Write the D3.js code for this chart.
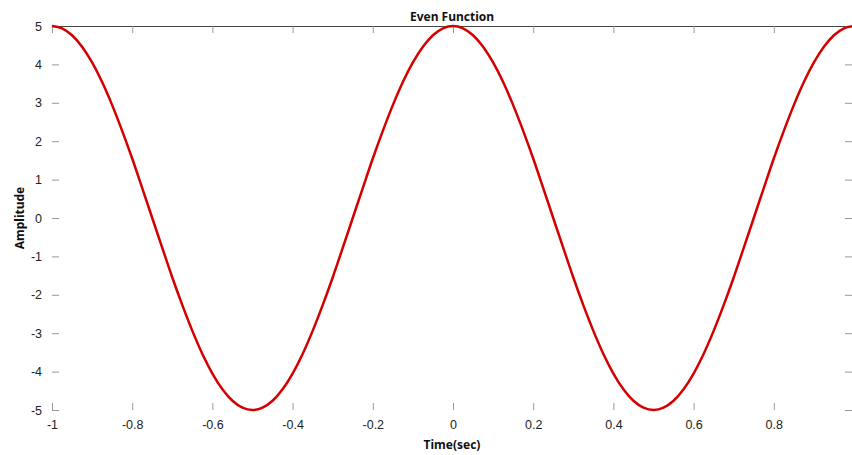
<!DOCTYPE html>
<html>
<head>
<meta charset="utf-8">
<script src="https://cdn.jsdelivr.net/npm/d3@7"></script>
<style>
  body { margin: 0; background: #fff; }
  .tick text { font-family: "Liberation Sans", Arial, sans-serif; font-size: 12.5px; fill: #222; }
  .lbl { font-family: "Comic Sans MS", "Noto Sans", sans-serif; font-size: 12px; font-weight: bold; fill: #111; }
</style>
</head>
<body>
<div id="chart"></div>
<script>
// values
var timeSec = [-1, -0.975, -0.95, -0.925, -0.9, -0.875, -0.85, -0.825, -0.8, -0.775, -0.75,
  -0.725, -0.7, -0.675, -0.65, -0.625, -0.6, -0.575, -0.55, -0.525, -0.5,
  -0.475, -0.45, -0.425, -0.4, -0.375, -0.35, -0.325, -0.3, -0.275, -0.25,
  -0.225, -0.2, -0.175, -0.15, -0.125, -0.1, -0.075, -0.05, -0.025, 0,
  0.025, 0.05, 0.075, 0.1, 0.125, 0.15, 0.175, 0.2, 0.225, 0.25,
  0.275, 0.3, 0.325, 0.35, 0.375, 0.4, 0.425, 0.45, 0.475, 0.5,
  0.525, 0.55, 0.575, 0.6, 0.625, 0.65, 0.675, 0.7, 0.725, 0.75,
  0.775, 0.8, 0.825, 0.85, 0.875, 0.9, 0.925, 0.95, 0.975, 1];
var amplitude = [5, 4.94, 4.76, 4.46, 4.05, 3.54, 2.94, 2.27, 1.55, 0.78, 0,
  -0.78, -1.55, -2.27, -2.94, -3.54, -4.05, -4.46, -4.76, -4.94, -5,
  -4.94, -4.76, -4.46, -4.05, -3.54, -2.94, -2.27, -1.55, -0.78, 0,
  0.78, 1.55, 2.27, 2.94, 3.54, 4.05, 4.46, 4.76, 4.94, 5,
  4.94, 4.76, 4.46, 4.05, 3.54, 2.94, 2.27, 1.55, 0.78, 0,
  -0.78, -1.55, -2.27, -2.94, -3.54, -4.05, -4.46, -4.76, -4.94, -5,
  -4.94, -4.76, -4.46, -4.05, -3.54, -2.94, -2.27, -1.55, -0.78, 0,
  0.78, 1.55, 2.27, 2.94, 3.54, 4.05, 4.46, 4.76, 4.94, 5];
var xTicks = [-1, -0.8, -0.6, -0.4, -0.2, 0, 0.2, 0.4, 0.6, 0.8];
var yTicks = [-5, -4, -3, -2, -1, 0, 1, 2, 3, 4, 5];

var svgWidth = 852;
var svgHeight = 455;
var margin = { top: 26, right: -2, bottom: 45, left: 52 };
var width = svgWidth - margin.left - margin.right;
var height = svgHeight - margin.top - margin.bottom;

// plain hyphen minus like the original
var fmt = d => String(d);

var svg = d3.select("#chart").append("svg")
  .attr("width", svgWidth)
  .attr("height", svgHeight);

var chartGroup = svg.append("g")
  .attr("transform", `translate(${margin.left}, ${margin.top})`);

var xScale = d3.scaleLinear().domain([-1, 1]).range([0, width]);
var yScale = d3.scaleLinear().domain([-5, 5]).range([height, 0]);

// bottom axis: ticks pointing inward
var xAxis = chartGroup.append("g")
  .attr("transform", `translate(0, ${height})`)
  .call(d3.axisBottom(xScale).tickValues(xTicks).tickSizeInner(-7).tickSizeOuter(0).tickPadding(10).tickFormat(fmt));
xAxis.select(".domain").remove();
xAxis.selectAll("line").attr("stroke", "#999");

// top: ticks hanging down
var xTop = chartGroup.append("g")
  .call(d3.axisTop(xScale).tickValues(xTicks).tickSizeInner(-7).tickSizeOuter(0).tickFormat(""));
xTop.select(".domain").attr("stroke", "#444");
xTop.selectAll("line").attr("stroke", "#999");

// left axis
var yAxis = chartGroup.append("g")
  .call(d3.axisLeft(yScale).tickValues(yTicks).tickSizeInner(-7).tickSizeOuter(0).tickPadding(10).tickFormat(fmt));
yAxis.select(".domain").remove();
yAxis.selectAll("line").attr("stroke", "#999");

// right axis ticks
var yRight = chartGroup.append("g")
  .attr("transform", `translate(${width - 2}, 0)`)
  .call(d3.axisRight(yScale).tickValues(yTicks).tickSizeInner(-7).tickSizeOuter(0).tickFormat(""));
yRight.select(".domain").remove();
yRight.selectAll("line").attr("stroke", "#999");

// curve
var line = d3.line()
  .x((d, i) => xScale(timeSec[i]))
  .y(d => yScale(d))
  .curve(d3.curveMonotoneX);

chartGroup.append("path")
  .datum(amplitude)
  .attr("d", line)
  .attr("fill", "none")
  .attr("stroke", "#d40000")
  .attr("stroke-width", 2.5);

// labels
svg.append("text").attr("class", "lbl")
  .attr("x", 452).attr("y", 21)
  .attr("text-anchor", "middle")
  .text("Even Function");

svg.append("text").attr("class", "lbl")
  .attr("x", 452).attr("y", 449)
  .attr("text-anchor", "middle")
  .text("Time(sec)");

svg.append("text").attr("class", "lbl")
  .attr("transform", "translate(24, 218) rotate(-90)")
  .attr("text-anchor", "middle")
  .text("Amplitude");
</script>
</body>
</html>
